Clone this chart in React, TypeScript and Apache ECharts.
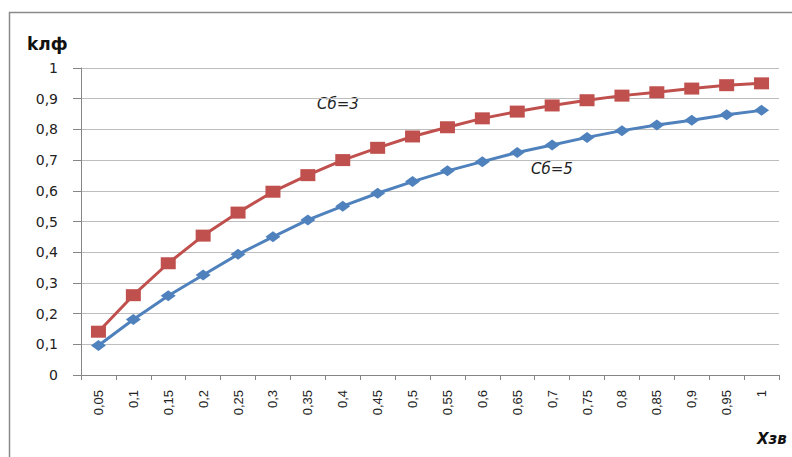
import React, { useEffect, useRef } from "react";
import * as echarts from "echarts";

// Категории по оси Хзв
const xCategories = [
  "0,05", "0,1", "0,15", "0,2", "0,25", "0,3", "0,35", "0,4", "0,45", "0,5",
  "0,55", "0,6", "0,65", "0,7", "0,75", "0,8", "0,85", "0,9", "0,95", "1",
];

// kлф при Сб=3
const kSb3 = [
  0.141, 0.26, 0.364, 0.454, 0.529, 0.597, 0.651, 0.7, 0.74, 0.777,
  0.807, 0.836, 0.858, 0.878, 0.895, 0.91, 0.921, 0.933, 0.944, 0.95,
];

// kлф при Сб=5
const kSb5 = [
  0.096, 0.181, 0.258, 0.326, 0.393, 0.45, 0.505, 0.55, 0.592, 0.63,
  0.665, 0.695, 0.725, 0.749, 0.774, 0.796, 0.814, 0.83, 0.848, 0.862,
];

const RED = "#C0504D";
const BLUE = "#4F81BD";

export default function App() {
  const ref = useRef<HTMLDivElement>(null);

  useEffect(() => {
    if (!ref.current) return;
    const chart = echarts.init(ref.current, null, { renderer: "svg" });
    chart.setOption({
      animation: false,
      backgroundColor: "#ffffff",
      textStyle: { fontFamily: "Liberation Sans, Arial, sans-serif" },
      grid: { left: 81, top: 68, right: 13, bottom: 82 },
      xAxis: {
        type: "category",
        data: xCategories,
        boundaryGap: true,
        axisLine: { lineStyle: { color: "#868686", width: 1 } },
        axisTick: { show: true, length: 5, alignWithLabel: false, lineStyle: { color: "#868686" } },
        axisLabel: {
          rotate: 90,
          margin: 15,
          fontSize: 13,
          color: "#222",
          fontFamily: "Liberation Sans, Arial, sans-serif",
          interval: 0,
        },
        splitLine: { show: false },
      },
      yAxis: {
        type: "value",
        min: 0,
        max: 1,
        interval: 0.1,
        axisLine: { show: true, lineStyle: { color: "#868686", width: 1 } },
        axisTick: { show: true, length: 8, inside: false, lineStyle: { color: "#868686" } },
        axisLabel: {
          margin: 23,
          fontSize: 14,
          color: "#222",
          fontFamily: "DejaVu Sans, Verdana, sans-serif",
          formatter: (v: number) => {
            const r = Math.round(v * 10) / 10;
            return String(r).replace(".", ",");
          },
        },
        splitLine: { show: true, lineStyle: { color: "#bdbdbd", width: 1 } },
      },
      series: [
        {
          name: "Сб=3",
          type: "line",
          data: kSb3,
          symbol: "rect",
          symbolSize: [15, 12],
          lineStyle: { color: RED, width: 3 },
          itemStyle: { color: RED },
        },
        {
          name: "Сб=5",
          type: "line",
          data: kSb5,
          symbol: "diamond",
          symbolSize: [15, 11],
          lineStyle: { color: BLUE, width: 3 },
          itemStyle: { color: BLUE },
        },
      ],
      graphic: [
        {
          type: "rect",
          shape: { x: 9.5, y: 12.5, width: 820, height: 480 },
          style: { fill: "none", stroke: "#8a8a8a", lineWidth: 1.5 },
          silent: true,
        },
        {
          type: "text",
          left: 27,
          top: 35,
          style: {
            text: "kлф",
            font: "bold 17px 'DejaVu Sans', sans-serif",
            fill: "#111",
          },
        },
        {
          type: "text",
          left: 757,
          top: 431,
          style: {
            text: "Хзв",
            font: "italic bold 15px 'DejaVu Sans', sans-serif",
            fill: "#111",
          },
        },
        {
          type: "text",
          left: 317,
          top: 96,
          style: {
            text: "Сб=3",
            font: "italic 15px 'DejaVu Sans', sans-serif",
            fill: "#222",
          },
        },
        {
          type: "text",
          left: 531,
          top: 161,
          style: {
            text: "Сб=5",
            font: "italic 15px 'DejaVu Sans', sans-serif",
            fill: "#222",
          },
        },
      ],
    });
    return () => chart.dispose();
  }, []);

  return (
    <div
      ref={ref}
      style={{ position: "fixed", left: 0, top: 0, width: 792, height: 457 }}
    />
  );
}
